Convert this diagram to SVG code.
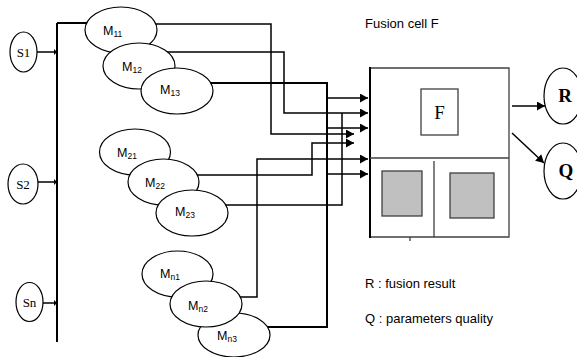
<svg xmlns="http://www.w3.org/2000/svg" width="577" height="357" viewBox="0 0 577 357">
<defs>
<marker id="ah" markerWidth="9" markerHeight="9" refX="8" refY="4.5" orient="auto" markerUnits="userSpaceOnUse">
<path d="M0,0 L8,4.5 L0,9 Z" fill="#000"/>
</marker>
<marker id="tk" markerWidth="4" markerHeight="6" refX="3" refY="3" orient="auto" markerUnits="userSpaceOnUse">
<path d="M0,0 L3,3 L0,6 Z" fill="#000"/>
</marker>
</defs>
<style>
.node ellipse{fill:#fff;stroke:#000;stroke-width:1.2}
.lbl{font-family:"Liberation Sans",Arial,sans-serif;font-size:12.5px;fill:#000}
.sub{font-size:8.5px}
.ser{font-family:"Liberation Serif","Times New Roman",serif;font-size:13px;fill:#000}
.fl{font-family:"Liberation Serif","Times New Roman",serif;font-size:19px;fill:#000}
.big{font-family:"Liberation Serif","Times New Roman",serif;font-size:19px;font-weight:bold;fill:#000}
.txt{font-family:"Liberation Sans",Arial,sans-serif;font-size:13px;fill:#000}
.c{fill:none;stroke:#000;stroke-width:1.5}
.ct{fill:none;stroke:#000;stroke-width:2}
.box{fill:none;stroke:#404040;stroke-width:1.3}
</style>
<g id="connectors">
<path class="ct" d="M57,23 V342"/>
<path class="ct" d="M57,23 H90"/>
<path class="c" d="M37,52 H57" marker-end="url(#tk)"/>
<path class="c" d="M38,182 H57" marker-end="url(#tk)"/>
<path class="c" d="M43,303 H57" marker-end="url(#tk)"/>
<path class="c" d="M121,24 H271 V134 H354" marker-end="url(#ah)"/>
<path class="c" d="M139,52 H284 V113 H368" marker-end="url(#ah)"/>
<path class="ct" d="M177,83 H327 V327 H234"/>
<path class="c" d="M327,98 H368" marker-end="url(#ah)"/>
<path class="c" d="M327,128 H368" marker-end="url(#ah)"/>
<path class="c" d="M327,174 H368" marker-end="url(#ah)"/>
<path class="c" d="M163,175 H312 V143 H354" marker-end="url(#ah)"/>
<path class="c" d="M192,205 H342 V113"/>
<path class="c" d="M206,297 H257 V159 H368" marker-end="url(#ah)"/>
<path class="c" d="M512,106 H545" marker-end="url(#ah)"/>
<path class="c" d="M512,133 L544,163" marker-end="url(#ah)"/>
</g>
<g id="S1" class="node"><ellipse cx="23.5" cy="52" rx="13.5" ry="20"/><text class="ser" x="23.5" y="57" text-anchor="middle">S1</text></g>
<g id="S2" class="node"><ellipse cx="23" cy="184" rx="15" ry="20"/><text class="ser" x="23" y="189" text-anchor="middle">S2</text></g>
<g id="Sn" class="node"><ellipse cx="29.5" cy="302" rx="13.5" ry="19.5"/><text class="ser" x="29.5" y="307" text-anchor="middle">Sn</text></g>
<g id="M11" class="node"><ellipse cx="121" cy="30" rx="36" ry="23"/><text class="lbl" x="103" y="35">M<tspan class="sub" dy="2">11</tspan></text></g>
<g id="M12" class="node"><ellipse cx="139" cy="66" rx="36" ry="23"/><text class="lbl" x="122" y="71">M<tspan class="sub" dy="2">12</tspan></text></g>
<g id="M13" class="node"><ellipse cx="177" cy="91" rx="36" ry="23"/><text class="lbl" x="160" y="94">M<tspan class="sub" dy="2">13</tspan></text></g>
<g id="M21" class="node"><ellipse cx="135" cy="152" rx="35.5" ry="23"/><text class="lbl" x="117" y="157">M<tspan class="sub" dy="2">21</tspan></text></g>
<g id="M22" class="node"><ellipse cx="163.5" cy="182" rx="35.5" ry="23"/><text class="lbl" x="145" y="187">M<tspan class="sub" dy="2">22</tspan></text></g>
<g id="M23" class="node"><ellipse cx="192" cy="213" rx="36" ry="23"/><text class="lbl" x="175" y="216">M<tspan class="sub" dy="2">23</tspan></text></g>
<g id="Mn1" class="node"><ellipse cx="177.5" cy="274" rx="35.5" ry="23"/><text class="lbl" x="160" y="278">M<tspan class="sub" dy="2">n1</tspan></text></g>
<g id="Mn3" class="node"><ellipse cx="234" cy="335" rx="36" ry="22"/><text class="lbl" x="217" y="340">M<tspan class="sub" dy="2">n3</tspan></text></g>
<g id="Mn2" class="node"><ellipse cx="206" cy="304" rx="36" ry="23"/><text class="lbl" x="188" y="310">M<tspan class="sub" dy="2">n2</tspan></text></g>
<g id="fusion-cell">
<text class="txt" x="365" y="28">Fusion cell F</text>
<path class="box" d="M370,68 H509 V237 H370"/>
<path class="ct" d="M370,67 V238"/>
<path class="box" d="M370,158 H509"/>
<path class="box" d="M434,161 V237"/>
<path class="box" d="M410,237 V241"/>
<rect x="421" y="89" width="37" height="46" fill="#fff" stroke="#404040" stroke-width="1.3"/>
<text class="fl" x="439.5" y="119" text-anchor="middle">F</text>
<rect x="382" y="171" width="40" height="45" fill="#c0c0c0" stroke="#404040" stroke-width="1.3"/>
<rect x="450" y="173" width="44" height="45" fill="#c0c0c0" stroke="#404040" stroke-width="1.3"/>
</g>
<g id="R" class="node"><ellipse cx="563" cy="96" rx="19" ry="28"/><text class="big" x="565" y="102" text-anchor="middle">R</text></g>
<g id="Q" class="node"><ellipse cx="563" cy="171" rx="19" ry="28"/><text class="big" x="566" y="177" text-anchor="middle">Q</text></g>
<g id="legend">
<text class="txt" x="365" y="288">R : fusion result</text>
<text class="txt" x="365" y="323">Q : parameters quality</text>
</g>
</svg>
